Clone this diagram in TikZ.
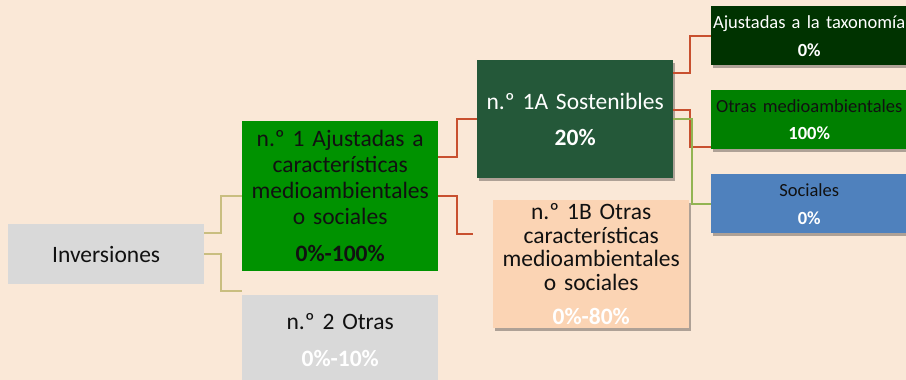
\documentclass[tikz,border=0pt]{standalone}
\usepackage{fontspec}
\setmainfont{Carlito}
\usetikzlibrary{shadows}
\definecolor{bg}{HTML}{FAE8D7}
\definecolor{greyb}{HTML}{D9D9D9}
\definecolor{gone}{HTML}{009200}
\definecolor{gsos}{HTML}{245839}
\definecolor{peach}{HTML}{FBD4B4}
\definecolor{gtax}{HTML}{003300}
\definecolor{gotr}{HTML}{008000}
\definecolor{bsoc}{HTML}{4F81BD}
\definecolor{tanc}{HTML}{C9BE80}
\definecolor{redc}{HTML}{C8502F}
\definecolor{grnc}{HTML}{92B452}
\definecolor{ink}{HTML}{111111}
\begin{document}
\begin{tikzpicture}[x=1pt,y=-1pt,
  box/.style={rectangle, inner sep=0pt, anchor=north west, align=center,
    text width=196pt, minimum width=196pt, text=ink},
  big/.style={font=\fontsize{23.5}{26}\selectfont},
  small/.style={font=\fontsize{18.5}{22}\selectfont},
  shad/.style={drop shadow={shadow xshift=2pt, shadow yshift=-3pt, opacity=0.3, fill=black}},
  tanl/.style={draw=tanc, line width=2pt},
  redl/.style={draw=redc, line width=2pt},
  grnl/.style={draw=grnc, line width=2pt}]
\fill[bg] (0,0) rectangle (906,380);
\useasboundingbox (0,0) rectangle (906,380);

\node[box, big, fill=greyb, minimum height=60pt] (inv) at (8,224) {Inversiones};
\node[box, big, fill=gone, minimum height=150pt] (n1) at (242,121)
  {n.º 1 Ajustadas a\\características\\medioambientales\\o sociales\\[11pt]\textbf{0\%-100\%}};
\node[box, big, fill=greyb, minimum height=90pt] (n2) at (242,295)
  {n.º 2 Otras\\[11pt]\textcolor{white}{\textbf{0\%-10\%}}};
\node[box, big, fill=gsos, minimum height=118pt, shad, text=white] (a1) at (477,60)
  {n.º 1A Sostenibles\\[10pt]\textbf{20\%}};
\node[box, fill=peach, minimum height=128pt, shad, font=\fontsize{23.5}{23.5}\selectfont] (b1) at (493,200)
  {n.º 1B Otras\\características\\medioambientales\\o sociales\\[11pt]\textcolor{white}{\textbf{0\%-80\%}}};
\node[box, small, fill=gtax, minimum height=59pt, shad, text=white] (t1) at (711,6)
  {Ajustadas a la taxonomía\\[6pt]\textbf{0\%}};
\node[box, small, fill=gotr, minimum height=59pt, shad] (t2) at (711,90)
  {Otras medioambientales\\[5pt]\textcolor{white}{\textbf{100\%}}};
\node[box, small, fill=bsoc, minimum height=59pt, shad] (t3) at (711,174)
  {Sociales\\[6pt]\textcolor{white}{\textbf{0\%}}};

\draw[tanl] ([yshift=21pt]inv.east) -- ++(17,0) |- (n1.west);
\draw[tanl] (inv.east) -- ++(17,0) |- ([yshift=4pt]n2.north west);
\draw[redl] ([yshift=39pt]n1.east) -- ++(19,0) |- (a1.west);
\draw[redl] (n1.east) -- ++(19,0) |- ([xshift=-20pt,yshift=-34pt]b1.north west);
\draw[redl] ([yshift=46pt]a1.east) -- ++(17,0) |- (t1.west);
\draw[redl] ([yshift=9pt]a1.east) -- ++(17,0) |- ([yshift=2pt]t2.south west);
\draw[grnl] (a1.east) -- ++(19,0) |- (t3.west);
\end{tikzpicture}
\end{document}
